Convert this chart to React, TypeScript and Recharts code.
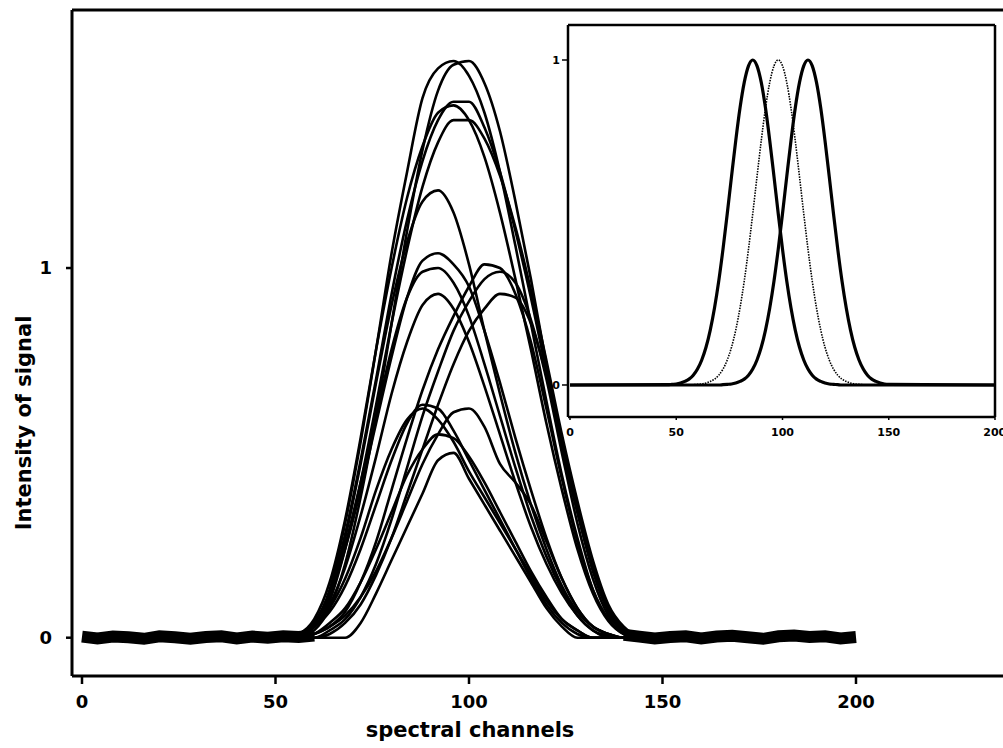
import React from 'react'
import { LineChart, Line, XAxis, YAxis, ReferenceLine } from 'recharts'

// main plot: channels where the peaks are sampled
const peakChannels = [52, 56, 60, 64, 68, 72, 76, 80, 84, 88, 92, 96, 100, 104, 108, 112, 116, 120, 124, 128, 132, 136, 140, 144, 148]

// flat noisy baseline on both sides of the peaks (all spectra overlap there)
const baseChannels = [0, 4, 8, 12, 16, 20, 24, 28, 32, 36, 40, 44, 48, 52, 56, 60, 140, 144, 148, 152, 156, 160, 164, 168, 172, 176, 180, 184, 188, 192, 196, 200]
const baseNoise = [0.003, -0.002, 0.003, 0.001, -0.003, 0.004, 0.001, -0.003, 0.002, 0.004, -0.002, 0.003, 0.0, 0.004, 0.002, 0.006, 0.008, 0.003, -0.002, 0.002, 0.004, -0.002, 0.003, 0.005, 0.001, -0.003, 0.004, 0.006, 0.002, 0.004, -0.002, 0.002]

// spectra, values at peakChannels
const tallA = [0, 0.01, 0.04, 0.13, 0.31, 0.53, 0.78, 1.04, 1.26, 1.46, 1.54, 1.56, 1.52, 1.42, 1.26, 1.06, 0.85, 0.64, 0.44, 0.27, 0.13, 0.05, 0.015, 0, 0]
const tallB = [0, 0, 0.02, 0.08, 0.2, 0.38, 0.6, 0.85, 1.1, 1.32, 1.48, 1.55, 1.56, 1.5, 1.37, 1.18, 0.97, 0.74, 0.52, 0.34, 0.18, 0.07, 0.02, 0.005, 0]
const highA = [0, 0.01, 0.04, 0.12, 0.28, 0.48, 0.7, 0.93, 1.13, 1.29, 1.4, 1.45, 1.45, 1.38, 1.26, 1.1, 0.92, 0.72, 0.52, 0.34, 0.19, 0.08, 0.025, 0.005, 0]
const highB = [0, 0.01, 0.05, 0.15, 0.32, 0.54, 0.78, 1.0, 1.19, 1.33, 1.42, 1.44, 1.4, 1.3, 1.15, 0.97, 0.78, 0.58, 0.4, 0.24, 0.12, 0.045, 0.01, 0, 0]
const highC = [0, 0, 0.03, 0.1, 0.24, 0.42, 0.63, 0.85, 1.05, 1.22, 1.34, 1.4, 1.4, 1.35, 1.25, 1.11, 0.94, 0.75, 0.55, 0.37, 0.21, 0.09, 0.03, 0.005, 0]
const midA = [0, 0.01, 0.04, 0.12, 0.27, 0.47, 0.69, 0.9, 1.07, 1.18, 1.21, 1.15, 1.01, 0.83, 0.66, 0.5, 0.36, 0.24, 0.14, 0.07, 0.03, 0.01, 0, 0, 0]
const leftA = [0, 0.01, 0.04, 0.11, 0.24, 0.4, 0.58, 0.76, 0.92, 1.02, 1.04, 1.01, 0.95, 0.83, 0.69, 0.54, 0.4, 0.27, 0.16, 0.08, 0.03, 0.01, 0, 0, 0]
const leftB = [0, 0.01, 0.04, 0.12, 0.25, 0.42, 0.6, 0.78, 0.92, 0.99, 1.0, 0.96, 0.87, 0.74, 0.6, 0.46, 0.33, 0.22, 0.13, 0.06, 0.02, 0.005, 0, 0, 0]
const leftC = [0, 0.01, 0.03, 0.09, 0.19, 0.33, 0.49, 0.66, 0.8, 0.9, 0.93, 0.89, 0.8, 0.68, 0.55, 0.42, 0.3, 0.2, 0.12, 0.06, 0.02, 0, 0, 0, 0]
const rightA = [0, 0, 0.01, 0.03, 0.07, 0.15, 0.26, 0.4, 0.54, 0.67, 0.78, 0.87, 0.95, 1.01, 1.0, 0.93, 0.8, 0.62, 0.43, 0.26, 0.13, 0.05, 0.01, 0, 0]
const rightB = [0, 0, 0, 0.02, 0.05, 0.11, 0.2, 0.32, 0.46, 0.6, 0.72, 0.83, 0.91, 0.97, 0.99, 0.96, 0.86, 0.7, 0.5, 0.31, 0.16, 0.06, 0.02, 0, 0]
const rightC = [0, 0, 0, 0.01, 0.04, 0.09, 0.17, 0.27, 0.39, 0.51, 0.63, 0.74, 0.83, 0.89, 0.93, 0.92, 0.85, 0.71, 0.53, 0.35, 0.19, 0.08, 0.02, 0, 0]
const lowA = [0, 0.01, 0.03, 0.07, 0.14, 0.24, 0.36, 0.48, 0.58, 0.63, 0.62, 0.56, 0.48, 0.4, 0.32, 0.24, 0.16, 0.09, 0.04, 0.01, 0, 0, 0, 0, 0]
const lowB = [0, 0.01, 0.03, 0.08, 0.16, 0.27, 0.4, 0.51, 0.59, 0.62, 0.59, 0.53, 0.45, 0.38, 0.31, 0.24, 0.17, 0.1, 0.05, 0.02, 0, 0, 0, 0, 0]
const lowC = [0, 0, 0.01, 0.03, 0.06, 0.11, 0.18, 0.27, 0.37, 0.47, 0.55, 0.61, 0.62, 0.57, 0.47, 0.42, 0.36, 0.26, 0.16, 0.08, 0.03, 0.01, 0, 0, 0]
const lowD = [0, 0, 0.01, 0.04, 0.08, 0.15, 0.24, 0.34, 0.44, 0.51, 0.55, 0.54, 0.49, 0.42, 0.34, 0.26, 0.18, 0.11, 0.05, 0.02, 0, 0, 0, 0, 0]
const lowE = [0, 0, 0, 0, 0, 0.04, 0.12, 0.21, 0.3, 0.39, 0.48, 0.5, 0.43, 0.36, 0.29, 0.22, 0.15, 0.08, 0.03, 0, 0, 0, 0, 0, 0]

const mainCurves = [tallA, tallB, highA, highB, highC, midA, leftA, leftB, leftC, rightA, rightB, rightC, lowA, lowB, lowC, lowD, lowE]

const mainTicksX = [0, 50, 100, 150, 200]
const mainTicksY = [0, 1]

// inset: three reference bands
const insetChannels = [0, 46, 48, 50, 52, 54, 56, 58, 60, 62, 64, 66, 68, 70, 72, 74, 76, 78, 80, 82, 84, 86, 88, 90, 92, 94, 96, 98, 100, 102, 104, 106, 108, 110, 112, 114, 116, 118, 120, 122, 124, 126, 128, 130, 132, 134, 136, 138, 140, 142, 144, 146, 148, 150, 200]
const bandLeft = [0, 0.001, 0.002, 0.003, 0.006, 0.011, 0.018, 0.03, 0.049, 0.077, 0.116, 0.169, 0.237, 0.32, 0.418, 0.527, 0.641, 0.752, 0.852, 0.931, 0.982, 1, 0.982, 0.931, 0.852, 0.752, 0.641, 0.527, 0.418, 0.32, 0.237, 0.169, 0.116, 0.077, 0.049, 0.03, 0.018, 0.011, 0.006, 0.003, 0.002, 0.001, 0, 0, 0, 0, 0, 0, 0, 0, 0, 0, 0, 0, 0]
const bandMid = [0, 0, 0, 0, 0, 0, 0, 0.001, 0.002, 0.003, 0.006, 0.011, 0.018, 0.03, 0.049, 0.077, 0.116, 0.169, 0.237, 0.32, 0.418, 0.527, 0.641, 0.752, 0.852, 0.931, 0.982, 1, 0.982, 0.931, 0.852, 0.752, 0.641, 0.527, 0.418, 0.32, 0.237, 0.169, 0.116, 0.077, 0.049, 0.03, 0.018, 0.011, 0.006, 0.003, 0.002, 0.001, 0, 0, 0, 0, 0, 0, 0]
const bandRight = [0, 0, 0, 0, 0, 0, 0, 0, 0, 0, 0, 0, 0, 0, 0.001, 0.002, 0.003, 0.006, 0.011, 0.018, 0.03, 0.049, 0.077, 0.116, 0.169, 0.237, 0.32, 0.418, 0.527, 0.641, 0.752, 0.852, 0.931, 0.982, 1, 0.982, 0.931, 0.852, 0.752, 0.641, 0.527, 0.418, 0.32, 0.237, 0.169, 0.116, 0.077, 0.049, 0.03, 0.018, 0.011, 0.006, 0.003, 0.002, 0]

const insetTicksX = [0, 50, 100, 150, 200]
const insetTicksY = [0, 1]

const allChannels = Array.from(new Set([...baseChannels, ...peakChannels])).sort((a, b) => a - b)
const mainRows = allChannels.map(ch => {
  const row: Record<string, number | null> = { ch }
  const bi = baseChannels.indexOf(ch)
  row.base = bi >= 0 ? baseNoise[bi] : null
  const pi = peakChannels.indexOf(ch)
  mainCurves.forEach((c, k) => {
    row['s' + k] = pi >= 0 ? c[pi] : null
  })
  return row
})

const insetRows = insetChannels.map((ch, i) => ({
  ch,
  left: bandLeft[i],
  mid: bandMid[i],
  right: bandRight[i],
}))

const font = 'DejaVu Sans, Verdana, sans-serif'
const mainX: [number, number] = [-2.584, 242.38]
const mainY: [number, number] = [-0.1036, 1.698]
const insetX: [number, number] = [-0.94, 200]
const insetY: [number, number] = [-0.0985, 1.1077]

export default function App() {
  return (
    <div style={{ position: 'absolute', left: 0, top: 0, width: 1003, height: 748, overflow: 'hidden', background: '#fff', fontFamily: font }}>
      {/* main plot */}
      <LineChart width={1020} height={748} data={mainRows} margin={{ top: 10, right: 0, bottom: 0, left: 0 }}>
        <XAxis
          dataKey="ch"
          type="number"
          domain={mainX}
          allowDataOverflow
          ticks={mainTicksX}
          height={72}
          axisLine={{ stroke: '#000', strokeWidth: 3 }}
          tickLine={{ stroke: '#000', strokeWidth: 2.5 }}
          tickSize={8}
          tickMargin={11}
          tick={{ fontSize: 18, fontWeight: 'bold', fill: '#000', fontFamily: font }}
        />
        <YAxis
          type="number"
          domain={mainY}
          allowDataOverflow
          ticks={mainTicksY}
          width={72}
          axisLine={{ stroke: '#000', strokeWidth: 3 }}
          tickLine={{ stroke: '#000', strokeWidth: 2.5 }}
          tickSize={6}
          tickMargin={14}
          tick={{ fontSize: 18, fontWeight: 'bold', fill: '#000', fontFamily: font }}
        />
        {/* top edge of the frame */}
        <ReferenceLine y={mainY[1]} stroke="#000" strokeWidth={3} ifOverflow="visible" />
        <Line dataKey="base" type="linear" stroke="#000" strokeWidth={12} dot={false} isAnimationActive={false} />
        {mainCurves.map((_, k) => (
          <Line
            key={k}
            dataKey={'s' + k}
            type="monotone"
            stroke="#000"
            strokeWidth={2.6}
            dot={false}
            isAnimationActive={false}
          />
        ))}
      </LineChart>

      {/* axis titles */}
      <svg width={1003} height={748} style={{ position: 'absolute', left: 0, top: 0, pointerEvents: 'none' }}>
        <text x={470} y={737} textAnchor="middle" fontFamily={font} fontWeight="bold" fontSize={21} fill="#000">
          spectral channels
        </text>
        <text transform="translate(31,423) rotate(-90)" textAnchor="middle" fontFamily={font} fontWeight="bold" fontSize={21} fill="#000">
          Intensity of signal
        </text>
      </svg>

      {/* inset */}
      <div style={{ position: 'absolute', left: 540, top: 0 }}>
        <LineChart width={463} height={448} data={insetRows} margin={{ top: 25, right: 8, bottom: 0, left: 0 }}>
          <XAxis
            dataKey="ch"
            type="number"
            domain={insetX}
            allowDataOverflow
            ticks={insetTicksX}
            height={31}
            axisLine={{ stroke: '#000', strokeWidth: 2.5 }}
            tickLine={{ stroke: '#000', strokeWidth: 1.5 }}
            tickSize={3}
            tickMargin={8}
            tick={{ fontSize: 11, fontWeight: 'bold', fill: '#000', fontFamily: font }}
          />
          <YAxis
            type="number"
            domain={insetY}
            allowDataOverflow
            ticks={insetTicksY}
            width={28}
            axisLine={{ stroke: '#000', strokeWidth: 2.5 }}
            tickLine={{ stroke: '#000', strokeWidth: 1.5 }}
            tickSize={6}
            tickMargin={2}
            tick={{ fontSize: 11, fontWeight: 'bold', fill: '#000', fontFamily: font }}
          />
          {/* top and right edges of the inset box */}
          <ReferenceLine y={insetY[1]} stroke="#000" strokeWidth={2.5} ifOverflow="visible" />
          <ReferenceLine x={insetX[1]} stroke="#000" strokeWidth={2.5} ifOverflow="visible" />
          <Line dataKey="mid" type="monotone" stroke="#000" strokeWidth={1.6} strokeDasharray="1.5 1.2" dot={false} isAnimationActive={false} />
          <Line dataKey="left" type="monotone" stroke="#000" strokeWidth={3.2} dot={false} isAnimationActive={false} />
          <Line dataKey="right" type="monotone" stroke="#000" strokeWidth={3.2} dot={false} isAnimationActive={false} />
        </LineChart>
      </div>
    </div>
  )
}
